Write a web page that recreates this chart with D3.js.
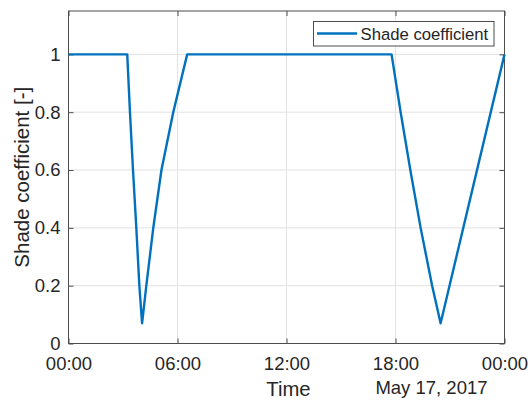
<!DOCTYPE html>
<html>
<head>
<meta charset="utf-8">
<script src="https://cdn.jsdelivr.net/npm/d3@7"></script>
<style>
  html, body { margin: 0; padding: 0; background: #fff; }
  svg { display: block; font-family: "Liberation Sans", Arial, sans-serif; }
</style>
</head>
<body>
<svg id="chart" width="531" height="400"></svg>
<script>
// Shade coefficient over one day (17 May 2017)
const times = [
  "2017-05-17 00:00", "2017-05-17 03:14", "2017-05-17 03:23", "2017-05-17 03:33",
  "2017-05-17 03:44", "2017-05-17 03:54", "2017-05-17 04:03", "2017-05-17 04:17",
  "2017-05-17 04:40", "2017-05-17 05:07", "2017-05-17 05:46", "2017-05-17 06:32",
  "2017-05-17 17:47", "2017-05-17 18:17", "2017-05-17 18:49", "2017-05-17 19:23",
  "2017-05-17 20:01", "2017-05-17 20:29", "2017-05-18 00:00"
];
const shade = [
  1, 1, 0.8, 0.6,
  0.4, 0.2, 0.07, 0.2,
  0.4, 0.6, 0.8, 1,
  1, 0.8, 0.6, 0.4,
  0.2, 0.07, 1
];
const yTicks = [0, 0.2, 0.4, 0.6, 0.8, 1];
const yTickLabels = ["0", "0.2", "0.4", "0.6", "0.8", "1"];
const xTickLabels = ["00:00", "06:00", "12:00", "18:00", "00:00"];
const seriesName = "Shade coefficient";
const xLabel = "Time";
const yLabel = "Shade coefficient [-]";
const dateLabel = "May 17, 2017";

const parse = d3.timeParse("%Y-%m-%d %H:%M");
const data = times.map((t, i) => ({ t: parse(t), v: shade[i] }));

const W = 531, H = 400;
const m = { left: 68.5, right: 26.5, top: 11, bottom: 56.5 };
const iw = W - m.left - m.right, ih = H - m.top - m.bottom;

const svg = d3.select("#chart");
const g = svg.append("g").attr("transform", `translate(${m.left},${m.top})`);

const x = d3.scaleTime()
  .domain([parse("2017-05-17 00:00"), parse("2017-05-18 00:00")])
  .range([0, iw]);
const y = d3.scaleLinear().domain([0, 1.15]).range([ih, 0]);

const xTicks = d3.range(0, 25, 6).map(h => d3.timeHour.offset(parse("2017-05-17 00:00"), h));

const axisColor = "#4d4d4d";
const gridColor = "#e3e3e3";
const textColor = "#262626";
const tickFont = 18.5;

// grid
g.append("g").selectAll("line").data(xTicks.slice(1, -1)).join("line")
  .attr("x1", d => x(d)).attr("x2", d => x(d))
  .attr("y1", 0).attr("y2", ih)
  .attr("stroke", gridColor).attr("stroke-width", 1);
g.append("g").selectAll("line").data(yTicks.slice(1)).join("line")
  .attr("x1", 0).attr("x2", iw)
  .attr("y1", d => y(d)).attr("y2", d => y(d))
  .attr("stroke", gridColor).attr("stroke-width", 1);

// axes with inward ticks on all four sides
const tickLen = 5;
const xAxisB = d3.axisBottom(x).tickValues(xTicks).tickSize(-tickLen).tickPadding(13)
  .tickFormat((d, i) => xTickLabels[i]);
const xAxisT = d3.axisTop(x).tickValues(xTicks).tickSize(-tickLen).tickFormat("");
const yAxisL = d3.axisLeft(y).tickValues(yTicks).tickSize(-tickLen).tickPadding(8)
  .tickFormat((d, i) => yTickLabels[i]);
const yAxisR = d3.axisRight(y).tickValues(yTicks).tickSize(-tickLen).tickFormat("");

function style(sel) {
  sel.select(".domain").attr("d", null);
  sel.selectAll(".tick line").attr("stroke", axisColor).attr("stroke-width", 1);
  sel.selectAll(".tick text").attr("fill", textColor).attr("font-size", tickFont)
    .attr("font-family", "Liberation Sans, Arial, sans-serif");
}
g.append("g").attr("transform", `translate(0,${ih})`).call(xAxisB).call(style);
g.append("g").call(xAxisT).call(style);
g.append("g").call(yAxisL).call(style);
g.append("g").attr("transform", `translate(${iw},0)`).call(yAxisR).call(style);
g.append("rect").attr("x", 0).attr("y", 0).attr("width", iw).attr("height", ih)
  .attr("fill", "none").attr("stroke", axisColor).attr("stroke-width", 1);

// series
const line = d3.line().x(d => x(d.t)).y(d => y(d.v));
g.append("path").datum(data)
  .attr("d", line)
  .attr("fill", "none")
  .attr("stroke", "#0072BD")
  .attr("stroke-width", 2.4)
  .attr("stroke-linejoin", "round");

// axis labels
svg.append("text").attr("x", 288.5).attr("y", 396)
  .attr("text-anchor", "middle").attr("font-size", 20.3).attr("fill", textColor)
  .text(xLabel);
svg.append("text").attr("x", 487.5).attr("y", 394)
  .attr("text-anchor", "end").attr("font-size", tickFont).attr("fill", textColor)
  .text(dateLabel);
svg.append("text")
  .attr("transform", `translate(28.5,${m.top + ih / 2}) rotate(-90)`)
  .attr("text-anchor", "middle").attr("font-size", 20.5).attr("fill", textColor)
  .text(yLabel);

// legend
const lg = svg.append("g");
lg.append("rect").attr("x", 313.5).attr("y", 21.5).attr("width", 180.5).attr("height", 24.5)
  .attr("fill", "#fff").attr("stroke", axisColor).attr("stroke-width", 1);
lg.append("line").attr("x1", 317).attr("x2", 357).attr("y1", 33.5).attr("y2", 33.5)
  .attr("stroke", "#0072BD").attr("stroke-width", 2.4);
lg.append("text").attr("x", 360.5).attr("y", 40).attr("font-size", 16.7)
  .attr("fill", textColor).text(seriesName);
</script>
</body>
</html>
